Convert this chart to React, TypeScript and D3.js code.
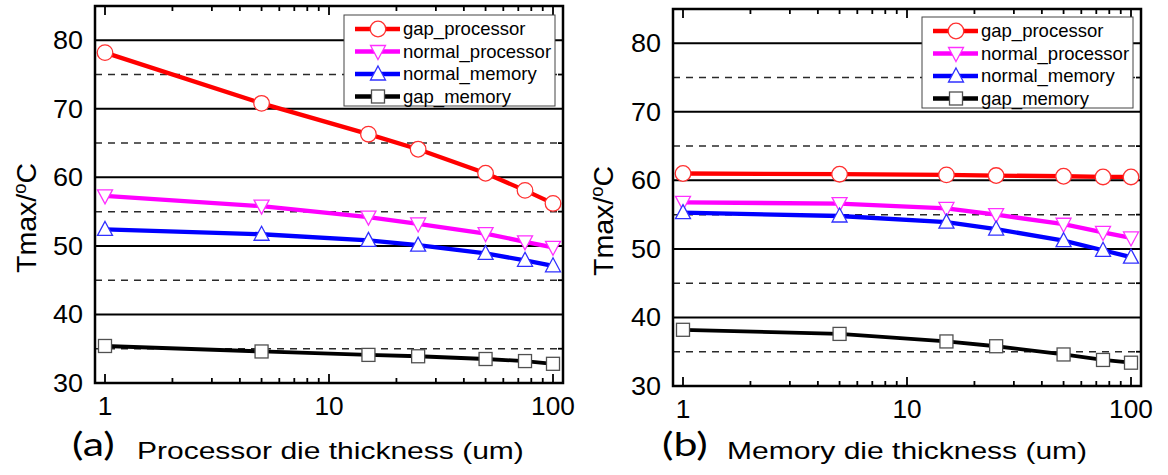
import React, { useEffect, useRef } from 'react'
import * as d3 from 'd3'

// die thickness (um)
const thickness = [1, 5, 15, 25, 50, 75, 100]

const seriesNames = ['gap_processor', 'normal_processor', 'normal_memory', 'gap_memory']
const seriesColors = ['#ff0000', '#ff00ff', '#0000ff', '#000000']
const markerStrokes = ['#ff3030', '#ff30ff', '#3030ff', '#505050']
const markerShapes = ['circle', 'down', 'up', 'square']

// (a) processor die thickness sweep
const procGapProcessor = [78.2, 70.8, 66.3, 64.1, 60.6, 58.1, 56.2]
const procNormalProcessor = [57.3, 55.8, 54.2, 53.2, 51.8, 50.6, 49.8]
const procNormalMemory = [52.4, 51.7, 50.8, 50.1, 48.9, 47.9, 47.1]
const procGapMemory = [35.4, 34.6, 34.1, 33.9, 33.5, 33.2, 32.8]

// (b) memory die thickness sweep
const memGapProcessor = [61.0, 60.9, 60.8, 60.7, 60.6, 60.5, 60.5]
const memNormalProcessor = [56.8, 56.6, 55.9, 55.0, 53.6, 52.4, 51.6]
const memNormalMemory = [55.3, 54.8, 53.9, 52.9, 51.2, 49.8, 48.8]
const memGapMemory = [38.2, 37.6, 36.5, 35.8, 34.6, 33.8, 33.4]

const yMajorTicks = [30, 40, 50, 60, 70, 80]
const yMinorTicks = [35, 45, 55, 65, 75]
const xMajorTicks = [1, 10, 100]

const FONT = "'Liberation Sans', Arial, sans-serif"

// the source figure is a bit wider than tall, so text is stretched sideways
const stretch = (sel, k) => {
  sel.each(function () {
    const w = this.getComputedTextLength()
    d3.select(this).attr('textLength', w * k).attr('lengthAdjust', 'spacingAndGlyphs')
  })
}

const markerPath = (shape, cx, cy) => {
  if (shape === 'up') return `M${cx},${cy - 8}L${cx + 7.5},${cy + 6}L${cx - 7.5},${cy + 6}Z`
  if (shape === 'down') return `M${cx},${cy + 8}L${cx + 7.5},${cy - 6}L${cx - 7.5},${cy - 6}Z`
  return ''
}

const drawMarker = (g, shape, cx, cy, stroke) => {
  if (shape === 'circle') {
    g.append('circle').attr('cx', cx).attr('cy', cy).attr('r', 7.8)
      .attr('fill', '#fff').attr('stroke', stroke).attr('stroke-width', 1.3)
  } else if (shape === 'square') {
    g.append('rect').attr('x', cx - 6.5).attr('y', cy - 6.5).attr('width', 13).attr('height', 13)
      .attr('fill', '#fff').attr('stroke', stroke).attr('stroke-width', 1.3)
  } else {
    g.append('path').attr('d', markerPath(shape, cx, cy))
      .attr('fill', '#fff').attr('stroke', stroke).attr('stroke-width', 1.3)
  }
}

function drawPanel(svg, cfg) {
  const { left, top, right, bottom, series, tag, caption, tagX, captionX, legendX, legendY, titleX, titleY } = cfg
  const x = d3.scaleLog().domain([1, 100]).range([left + 10, right - 10])
  const y = d3.scaleLinear().domain([30, 85]).range([bottom, top])
  const g = svg.append('g')

  // grid
  g.selectAll('line.major')
    .data(yMajorTicks.filter(d => d > 30))
    .enter()
    .append('line')
    .attr('x1', left)
    .attr('x2', right)
    .attr('y1', d => y(d))
    .attr('y2', d => y(d))
    .attr('stroke', '#000')
    .attr('stroke-width', 2)
  g.selectAll('line.minor')
    .data(yMinorTicks)
    .enter()
    .append('line')
    .attr('x1', left)
    .attr('x2', right)
    .attr('y1', d => y(d))
    .attr('y2', d => y(d))
    .attr('stroke', '#2a2a2a')
    .attr('stroke-width', 1.5)
    .attr('stroke-dasharray', '7,6')

  // ticks, all inward
  const xt = x.ticks()
  const tickLen = d => (xMajorTicks.includes(d) ? 9 : 5)
  g.selectAll('line.xb')
    .data(xt)
    .enter()
    .append('line')
    .attr('x1', d => x(d))
    .attr('x2', d => x(d))
    .attr('y1', bottom)
    .attr('y2', d => bottom - tickLen(d))
    .attr('stroke', '#000')
    .attr('stroke-width', 1.8)
  g.selectAll('line.xt')
    .data(xt)
    .enter()
    .append('line')
    .attr('x1', d => x(d))
    .attr('x2', d => x(d))
    .attr('y1', top)
    .attr('y2', d => top + tickLen(d))
    .attr('stroke', '#000')
    .attr('stroke-width', 1.8)
  g.selectAll('line.yr')
    .data(yMinorTicks)
    .enter()
    .append('line')
    .attr('x1', right)
    .attr('x2', right - 5)
    .attr('y1', d => y(d))
    .attr('y2', d => y(d))
    .attr('stroke', '#000')
    .attr('stroke-width', 1.8)

  // series
  const line = d3.line().x(d => x(d[0])).y(d => y(d[1]))
  series.forEach((vals, i) => {
    const pts = thickness.map((t, j) => [t, vals[j]])
    g.append('path')
      .attr('d', line(pts))
      .attr('fill', 'none')
      .attr('stroke', seriesColors[i])
      .attr('stroke-width', i === 3 ? 3.8 : 4.3)
    const mg = g.append('g')
    pts.forEach(p => drawMarker(mg, markerShapes[i], x(p[0]), y(p[1]), markerStrokes[i]))
  })

  // frame
  g.append('rect')
    .attr('x', left)
    .attr('y', top)
    .attr('width', right - left)
    .attr('height', bottom - top)
    .attr('fill', 'none')
    .attr('stroke', '#000')
    .attr('stroke-width', 2.5)

  // tick labels
  g.selectAll('text.yl')
    .data(yMajorTicks)
    .enter()
    .append('text')
    .attr('x', left - 12)
    .attr('y', d => y(d))
    .attr('dy', '0.36em')
    .attr('text-anchor', 'end')
    .attr('font-family', FONT)
    .attr('font-size', 25)
    .text(d => d)
    .call(stretch, 1.08)
  g.selectAll('text.xl')
    .data(xMajorTicks)
    .enter()
    .append('text')
    .attr('x', d => x(d))
    .attr('y', bottom + 32)
    .attr('text-anchor', 'middle')
    .attr('font-family', FONT)
    .attr('font-size', 25)
    .text(d => d)
    .call(stretch, 1.05)

  // y title
  const title = g.append('text')
    .attr('transform', `translate(${titleX},${titleY}) rotate(-90)`)
    .attr('text-anchor', 'middle')
    .attr('font-family', FONT)
    .attr('font-size', 28)
  title.append('tspan').text('Tmax/')
  title.append('tspan').attr('font-size', 18).attr('dy', -10).text('o')
  title.append('tspan').attr('dy', 10).text('C')
  title.attr('textLength', 110).attr('lengthAdjust', 'spacingAndGlyphs')

  // caption
  g.append('text')
    .attr('x', tagX)
    .attr('y', 456)
    .attr('font-family', "Lato, 'Open Sans', sans-serif")
    .attr('font-size', 33)
    .text(tag)
    .call(stretch, 1.3)
  g.append('text')
    .attr('x', captionX)
    .attr('y', 459)
    .attr('font-family', FONT)
    .attr('font-size', 24)
    .text(caption)
    .call(stretch, 1.25)

  // legend
  const lg = g.append('g').attr('transform', `translate(${legendX},${legendY})`)
  lg.append('rect')
    .attr('width', 211)
    .attr('height', 91)
    .attr('fill', '#fff')
    .attr('stroke', '#444')
    .attr('stroke-width', 1)
  seriesNames.forEach((name, i) => {
    const ry = 14 + i * 22.5
    lg.append('line')
      .attr('x1', 11)
      .attr('x2', 56)
      .attr('y1', ry)
      .attr('y2', ry)
      .attr('stroke', seriesColors[i])
      .attr('stroke-width', 4.3)
    drawMarker(lg, markerShapes[i], 34, ry, markerStrokes[i])
    lg.append('text')
      .attr('x', 59)
      .attr('y', ry)
      .attr('dy', '0.35em')
      .attr('font-family', FONT)
      .attr('font-size', 18.5)
      .text(name)
      .call(stretch, 1.0)
  })
}

export default function App() {
  const ref = useRef(null)

  useEffect(() => {
    const svg = d3.select(ref.current)
    svg.selectAll('*').remove()
    drawPanel(svg, {
      left: 95,
      top: 6,
      right: 563,
      bottom: 383,
      series: [procGapProcessor, procNormalProcessor, procNormalMemory, procGapMemory],
      tag: '(a)',
      caption: 'Processor die thickness (um)',
      tagX: 72,
      captionX: 137,
      legendX: 344,
      legendY: 15,
      titleX: 36,
      titleY: 218
    })
    drawPanel(svg, {
      left: 673,
      top: 9,
      right: 1141,
      bottom: 386,
      series: [memGapProcessor, memNormalProcessor, memNormalMemory, memGapMemory],
      tag: '(b)',
      caption: 'Memory die thickness (um)',
      tagX: 662,
      captionX: 727,
      legendX: 922,
      legendY: 17,
      titleX: 613,
      titleY: 221
    })
  }, [])

  return (
    <svg
      ref={ref}
      width={1168}
      height={475}
      style={{ position: 'absolute', left: 0, top: 0, background: '#fff' }}
    />
  )
}
